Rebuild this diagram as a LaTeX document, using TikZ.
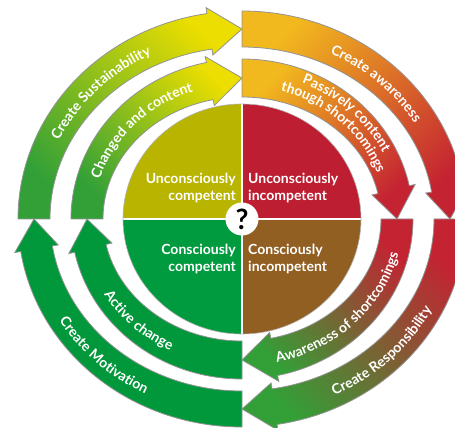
\documentclass[tikz,border=0pt]{standalone}
\usepackage{fontspec}
\setmainfont{Lato}
\usetikzlibrary{decorations.text}

\definecolor{quadolive}{RGB}{184,180,0}
\definecolor{quadred}{RGB}{190,30,50}
\definecolor{quadgreen}{RGB}{0,155,62}
\definecolor{quadbrown}{RGB}{146,95,34}
\definecolor{arrowgreen}{RGB}{0,152,58}
\definecolor{arrowyellow}{RGB}{236,222,0}
\definecolor{limegreen}{RGB}{150,195,40}
\definecolor{leafgreen}{RGB}{50,160,55}
\definecolor{amber}{RGB}{242,185,30}
\definecolor{burntorange}{RGB}{222,115,45}
\definecolor{arrowred}{RGB}{196,35,50}
\definecolor{rust}{RGB}{170,95,55}

\newcommand{\ringfont}{\bfseries\fontsize{14}{14}\selectfont}

% band arrow: tail angle, inner rx, inner ry, outer rx, outer ry, head span
\newcommand{\bandarrow}[6]{({#4*cos(#1)},{#5*sin(#1)})
  arc[start angle=#1, end angle=#1-90+#6, x radius=#4pt, y radius=#5pt]
  -- ({(#4+6)*cos(#1-90+#6)},{(#5+6)*sin(#1-90+#6)})
  -- ({(#2+#4)/2*cos(#1-90)},{(#3+#5)/2*sin(#1-90)})
  -- ({(#2-6)*cos(#1-90+#6)},{(#3-6)*sin(#1-90+#6)})
  -- ({#2*cos(#1-90+#6)},{#3*sin(#1-90+#6)})
  arc[start angle=#1-90+#6, end angle=#1, x radius=#2pt, y radius=#3pt]
  -- cycle}

% text on a ring: start, end, rx, ry, text
\newcommand{\ringtext}[5]{\path[decorate, decoration={text along path,
    text align=center, text color=white, text={|\ringfont|#5}}]
  ({#3*cos(#1)},{#4*sin(#1)})
  arc[start angle=#1, end angle=#2, x radius=#3pt, y radius=#4pt];}

\begin{document}
\begin{tikzpicture}[x=1pt,y=1pt,
  arrowline/.style={draw=gray!85, line width=0.8pt},
  quadlabel/.style={text=white, inner sep=0pt, font=\bfseries\fontsize{14}{17}\selectfont}]
\useasboundingbox (-242,-209) rectangle (213,219);

% outer ring
\shadedraw[arrowline, top color=arrowyellow, middle color=limegreen, bottom color=leafgreen, shading angle=-45] \bandarrow{180}{192}{172}{224}{208}{9};
\shadedraw[arrowline, top color=arrowred, middle color=burntorange, bottom color=amber, shading angle=-135] \bandarrow{90}{192}{172}{224}{208}{9};
\shadedraw[arrowline, top color=leafgreen, middle color=rust, bottom color=arrowred, shading angle=135] \bandarrow{0}{192}{172}{224}{208}{9};
\filldraw[arrowline, fill=arrowgreen] \bandarrow{270}{192}{172}{224}{208}{9};

% inner ring
\shadedraw[arrowline, top color=arrowyellow, middle color=limegreen, bottom color=leafgreen, shading angle=-45] \bandarrow{180}{139}{122}{171}{160}{12};
\shadedraw[arrowline, top color=arrowred, middle color=burntorange, bottom color=amber, shading angle=-135] \bandarrow{90}{139}{122}{171}{160}{12};
\shadedraw[arrowline, top color=leafgreen, middle color=rust, bottom color=arrowred, shading angle=135] \bandarrow{0}{139}{122}{171}{160}{12};
\filldraw[arrowline, fill=arrowgreen] \bandarrow{270}{139}{122}{171}{160}{12};

% texts on the rings
\ringtext{197.5}{77.5}{202}{184}{Create Sustainability}
\ringtext{197.5}{77.5}{149}{135}{Changed and content}
\ringtext{106}{-14}{202}{184}{Create awareness}
\ringtext{106}{-14}{158}{147}{Passively content}
\ringtext{106}{-14}{144}{133}{though shortcomings}
\ringtext{-104.3}{15.7}{214}{196}{Create Responsibility}
\ringtext{-104.3}{15.7}{161}{147}{Awareness of shortcomings}
\ringtext{165.5}{285.5}{214}{196}{Create Motivation}
\ringtext{165.5}{285.5}{161}{147}{Active change}

% the four quadrants
\fill[quadolive] (0,0) -- (-119,0) arc[start angle=180, end angle=90, x radius=119pt, y radius=115pt] -- cycle;
\fill[quadred] (0,0) -- (0,115) arc[start angle=90, end angle=0, x radius=119pt, y radius=115pt] -- cycle;
\fill[quadbrown] (0,0) -- (119,0) arc[start angle=0, end angle=-90, x radius=119pt, y radius=115pt] -- cycle;
\fill[quadgreen] (0,0) -- (0,-115) arc[start angle=270, end angle=180, x radius=119pt, y radius=115pt] -- cycle;
\draw[white, line width=2pt] (-119,0) -- (119,0);
\draw[white, line width=2pt] (0,115) -- (0,-115);
\draw[gray!60, line width=0.6pt] (0,0) ellipse[x radius=119pt, y radius=115pt];

\node[quadlabel, anchor=east, align=right] (uc) at (-6,31) {Unconsciously\\competent};
\node[quadlabel, anchor=west, align=left] (ui) at (6,31) {Unconsciously\\incompetent};
\node[quadlabel, anchor=east, align=right] (cc) at (-6,-40) {Consciously\\competent};
\node[quadlabel, anchor=west, align=left] (ci) at (6,-40) {Consciously\\incompetent};

\node[circle, fill=white, inner sep=0pt, minimum size=33pt, font=\bfseries\fontsize{28}{28}\selectfont] (qm) at (0,0) {?};
\end{tikzpicture}
\end{document}
